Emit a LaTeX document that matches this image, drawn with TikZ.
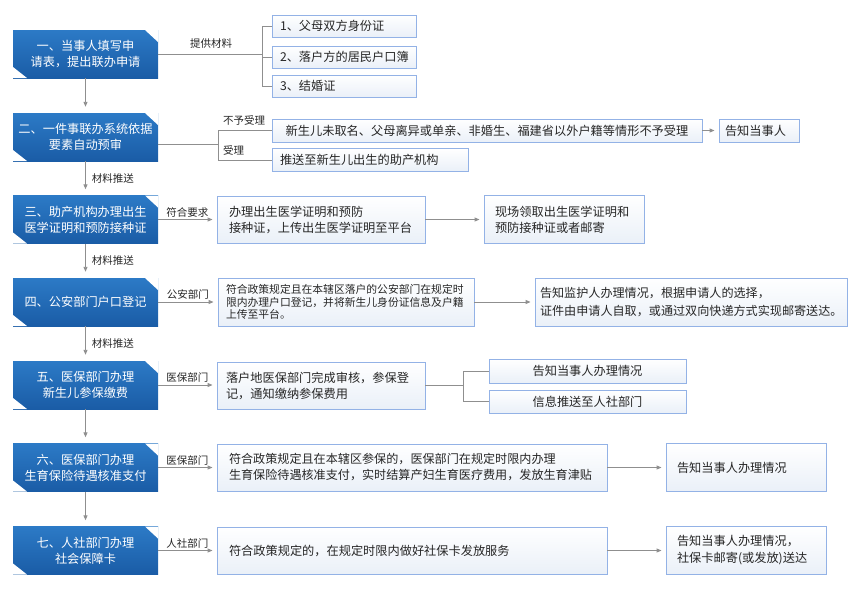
\documentclass[tikz,border=0pt]{standalone}
\usepackage{fontspec}
\setmainfont{Noto Sans CJK SC}
\usetikzlibrary{arrows.meta}
\definecolor{bluetop}{HTML}{2C7AC6}
\definecolor{bluebot}{HTML}{1A5CA6}
\definecolor{lbord}{HTML}{93B2E6}
\definecolor{lfill}{HTML}{EAF0F8}
\definecolor{tcol}{HTML}{262626}
\definecolor{ccol}{HTML}{8F8F8F}
\begin{document}
\begin{tikzpicture}[x=1pt,y=-1pt,
  bluebox/.style={rectangle, minimum width=145pt, minimum height=48pt, inner sep=0pt,
    top color=bluetop, bottom color=bluebot, draw=none, text=white, align=center,
    font=\fontsize{12.2}{16}\selectfont,
    path picture={
      \fill[white] ([xshift=-13pt]path picture bounding box.north east) -- (path picture bounding box.north east) -- ([yshift=-12pt]path picture bounding box.north east) -- cycle;
      \fill[white] ([xshift=14pt]path picture bounding box.south west) -- (path picture bounding box.south west) -- ([yshift=11pt]path picture bounding box.south west) -- cycle;
    }},
  lightbox/.style={rectangle, draw=lbord, line width=0.9pt, top color=white, bottom color=lfill,
    text=tcol, font=\fontsize{12.2}{16}\selectfont, inner ysep=0pt},
  lbl/.style={text=tcol, font=\fontsize{10.5}{12}\selectfont, inner sep=2pt},
  conn/.style={draw=ccol, line width=0.9pt},
  arr/.style={conn, -{Triangle[length=5pt,width=4pt]}, shorten >=4pt},
  varr/.style={conn, -{Triangle[length=5pt,width=4pt]}, shorten >=6pt}
]
\useasboundingbox (0,0) rectangle (859,603);

% left column
\node[bluebox] (b1) at (85.5,54) {一、当事人填写申\\请表，提出联办申请};
\node[bluebox] (b2) at (85.5,137) {二、一件事联办系统依据\\要素自动预审};
\node[bluebox] (b3) at (85.5,219.5) {三、助产机构办理出生\\医学证明和预防接种证};
\node[bluebox] (b4) at (85.5,302) {四、公安部门户口登记};
\node[bluebox] (b5) at (85.5,385) {五、医保部门办理\\新生儿参保缴费};
\node[bluebox] (b6) at (85.5,467.5) {六、医保部门办理\\生育保险待遇核准支付};
\node[bluebox] (b7) at (85.5,550.5) {七、人社部门办理\\社会保障卡};

\draw[varr] (b1) -- (b2);
\draw[varr] (b2) -- node[lbl, right=4pt] (l23) {材料推送} (b3);
\draw[varr] (b3) -- node[lbl, right=4pt] (l34) {材料推送} (b4);
\draw[varr] (b4) -- node[lbl, right=4pt] (l45) {材料推送} (b5);
\draw[varr] (b5) -- (b6);
\draw[varr] (b6) -- (b7);

% row 1
\node[lightbox, minimum height=22pt, text width=128pt, inner xsep=8pt, align=left] (m1) at (344,26) {1、父母双方身份证};
\node[lightbox, minimum height=22pt, text width=128pt, inner xsep=8pt, align=left] (m2) at (344,57) {2、落户方的居民户口簿};
\node[lightbox, minimum height=22pt, text width=128pt, inner xsep=8pt, align=left] (m3) at (344,86) {3、结婚证};
\coordinate (j1) at (262,54);
\draw[conn] (b1.east) -- (j1);
\draw[conn] (m1.west) -- (m1.west -| j1) -- (m3.west -| j1) -- (m3.west);
\draw[conn] (m2.west) -- (m2.west -| j1);
\node[lbl] (l1) at (211,44) {提供材料};

% row 2
\node[lightbox, minimum width=430pt, minimum height=23pt, inner xsep=0pt] (n1) at (487,130.5) {新生儿未取名、父母离异或单亲、非婚生、福建省以外户籍等情形不予受理};
\node[lightbox, minimum height=23pt, text width=68pt, inner xsep=6pt, align=left] (t1) at (759,130.5) {告知当事人};
\node[lightbox, minimum height=23pt, text width=180pt, inner xsep=8pt, align=left] (n2) at (370,160) {推送至新生儿出生的助产机构};
\coordinate (j2) at (218,144);
\draw[conn] (j2 -| b2.east) -- (j2);
\draw[conn] (n1.west) -- (n1.west -| j2) -- (n2.west -| j2) -- (n2.west);
\draw[arr] (n1.east) -- (t1.west);
\node[lbl, anchor=west] (l2a) at (221,120) {不予受理};
\node[lbl, anchor=west] (l2b) at (221,150) {受理};

% row 3
\node[lightbox, minimum height=47pt, text width=184pt, inner xsep=12pt, align=left] (p3) at (321,219.5) {办理出生医学证明和预防\\接种证，上传出生医学证明至平台};
\node[lightbox, minimum height=48pt, text width=138pt, inner xsep=11pt, align=left] (q3) at (564,219.5) {现场领取出生医学证明和\\预防接种证或者邮寄};
\draw[arr] (b3.east) -- node[lbl, above] (l3) {符合要求} (p3.west);
\draw[arr] (p3.east) -- (q3.west);

% row 4
\node[lightbox, minimum height=48pt, text width=240pt, inner xsep=8pt, align=left, font=\fontsize{10.8}{12.6}\selectfont] (p4) at (346,302) {符合政策规定且在本辖区落户的公安部门在规定时\\限内办理户口登记，并将新生儿身份证信息及户籍\\上传至平台。};
\node[lightbox, minimum height=48pt, text width=302pt, inner xsep=5pt, align=left, font=\fontsize{12.1}{18}\selectfont] (q4) at (691,302) {告知监护人办理情况，根据申请人的选择，\\证件由申请人自取，或通过双向快递方式实现邮寄送达。};
\draw[arr] (b4.east) -- node[lbl, above] (l4) {公安部门} (p4.west);
\draw[arr] (p4.east) -- (q4.west);

% row 5
\node[lightbox, minimum height=47pt, text width=190pt, inner xsep=9pt, align=left] (p5) at (321,385.5) {落户地医保部门完成审核，参保登\\记，通知缴纳参保费用};
\node[lightbox, minimum width=197pt, minimum height=24pt] (r1) at (587.5,371) {告知当事人办理情况};
\node[lightbox, minimum width=197pt, minimum height=23pt] (r2) at (587.5,401.5) {信息推送至人社部门};
\draw[arr] (b5.east) -- node[lbl, above] (l5) {医保部门} (p5.west |- b5.east);
\coordinate (j5) at (463,385.5);
\draw[conn] (p5.east) -- (j5);
\draw[conn] (r1.west) -- (r1.west -| j5) -- (r2.west -| j5) -- (r2.west);

% row 6
\node[lightbox, minimum height=47pt, text width=366pt, inner xsep=12pt, align=left, font=\fontsize{12.1}{16}\selectfont] (p6) at (412,467.5) {符合政策规定且在本辖区参保的，医保部门在规定时限内办理\\生育保险待遇核准支付，实时结算产妇生育医疗费用，发放生育津贴};
\node[lightbox, minimum height=48pt, text width=138pt, inner xsep=11pt, align=left] (q6) at (746,467.5) {告知当事人办理情况};
\draw[arr] (b6.east) -- node[lbl, above] (l6) {医保部门} (p6.west);
\draw[arr] (p6.east) -- (q6.west);

% row 7
\node[lightbox, minimum height=47pt, text width=366pt, inner xsep=12pt, align=left] (p7) at (412,550.5) {符合政策规定的，在规定时限内做好社保卡发放服务};
\node[lightbox, minimum height=48pt, text width=138pt, inner xsep=11pt, align=left, font=\fontsize{12.2}{17}\selectfont] (q7) at (746,550.5) {告知当事人办理情况，\\社保卡邮寄(或发放)送达};
\draw[arr] (b7.east) -- node[lbl, above] (l7) {人社部门} (p7.west);
\draw[arr] (p7.east) -- (q7.west);
\end{tikzpicture}
\end{document}
